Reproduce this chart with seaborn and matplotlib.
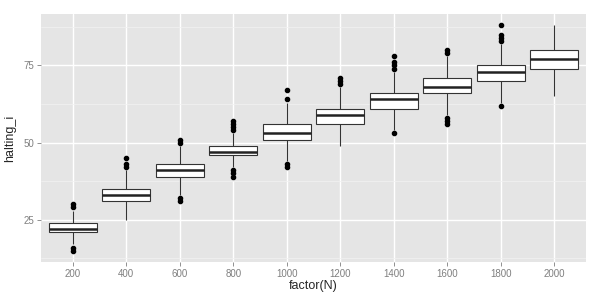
import pandas as pd
import numpy as np
import matplotlib
matplotlib.use("Agg")
import matplotlib.pyplot as plt
import seaborn as sns

# Values (five-number summary per group + outliers)
n_labels = ["200", "400", "600", "800", "1000", "1200", "1400", "1600", "1800", "2000"]
whis_lo = [17, 25, 33, 42, 44, 49, 54, 59, 63, 65]
q1 = [21, 31, 39, 46, 51, 56, 61, 66, 70, 74]
median = [22, 33, 41, 47, 53, 59, 64, 68, 73, 77]
q3 = [24, 35, 43, 49, 56, 61, 66, 71, 75, 80]
whis_hi = [28, 41, 49, 53, 63, 68, 73, 78, 82, 88]
outliers = [
    [15, 16, 29, 30],
    [42, 43, 45],
    [31, 32, 50, 51],
    [39, 40, 41, 54, 55, 56, 57],
    [42, 43, 64, 67],
    [69, 70, 71],
    [53, 74, 75, 76, 78],
    [56, 57, 58, 79, 80],
    [62, 83, 84, 85, 88],
    [],
]

# long table for seaborn: each summary value repeated so the quartiles land on it
rows = []
for i, lab in enumerate(n_labels):
    for v in [whis_lo[i], q1[i], median[i], q3[i], whis_hi[i]] * 20 + outliers[i]:
        rows.append((lab, v))
df = pd.DataFrame(rows, columns=["N", "halting_i"])

sns.set_theme(style="darkgrid", rc={
    "axes.facecolor": "#E5E5E5",
    "grid.color": "white",
    "axes.edgecolor": "#E5E5E5",
})
plt.rcParams["font.family"] = ["Liberation Sans", "DejaVu Sans"]

fig, ax = plt.subplots(figsize=(6, 3), dpi=100)
fig.subplots_adjust(left=0.068, right=0.977, top=0.953, bottom=0.127)

sns.boxplot(data=df, x="N", y="halting_i", order=n_labels, ax=ax,
            color="white", saturation=1, linecolor="#333333", linewidth=0.8,
            width=0.9, showcaps=False,
            flierprops=dict(marker="o", markersize=3.0, markerfacecolor="black",
                            markeredgecolor="black"),
            medianprops=dict(linewidth=1.8, color="#222222"))

ax.set_xlim(-0.6, 9.6)
ax.set_ylim(11.35, 91.65)
ax.set_yticks([25, 50, 75])
ax.set_yticks([12.5, 37.5, 62.5, 87.5], minor=True)
ax.grid(True, which="major", color="white", linewidth=1.0)
ax.grid(True, which="minor", axis="y", color="#F2F2F2", linewidth=0.5)
ax.set_axisbelow(True)
for s in ax.spines.values():
    s.set_visible(False)

ax.tick_params(which="major", length=3, width=0.6, color="#7F7F7F",
               labelcolor="#7F7F7F", labelsize=7, pad=2, bottom=True, left=True)
ax.tick_params(which="minor", length=0)
ax.set_xlabel("factor(N)", fontsize=9, labelpad=1)
ax.set_ylabel("halting_i", fontsize=9, labelpad=5)

fig.savefig("out.png", dpi=100)
